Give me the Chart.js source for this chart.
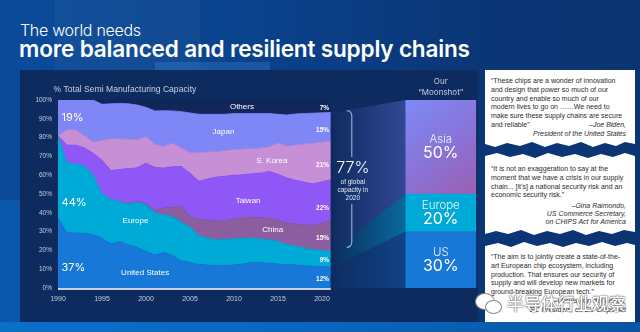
<!DOCTYPE html>
<html>
<head>
<meta charset="utf-8">
<script src="https://cdn.jsdelivr.net/npm/chart.js@4.4.1/dist/chart.umd.min.js"></script>
<style>
  html, body { margin: 0; padding: 0; }
  body {
    width: 640px; height: 332px; overflow: hidden; position: relative;
    background: linear-gradient(90deg, #0a4b9a 0%, #0a428c 40%, #0b3676 75%, #0b3472 100%);
    font-family: 'Liberation Sans', Arial, sans-serif;
  }
  .blk { position: absolute; }
  #panel { position: absolute; left: 20px; top: 70px; width: 458px; height: 252px; background: #0e2b5f; }
  #strip { position: absolute; left: 0; top: 322px; width: 640px; height: 10px;
    background: linear-gradient(90deg, #0b70c8, #0a66bd 50%, #0a54a4); }
  #t1 { position: absolute; left: 20px; top: 20px; color: #fff; font-family: Inter, sans-serif;
    font-weight: 300; font-size: 16px; letter-spacing: -0.3px; white-space: nowrap; }
  #t2 { position: absolute; left: 19px; top: 35px; color: #fff; font-family: Inter, sans-serif;
    font-weight: 600; font-size: 22.6px; letter-spacing: -0.2px; white-space: nowrap; }
  #wrap { position: absolute; left: 0; top: 0; width: 640px; height: 332px; }
  .quote { position: absolute; left: 485px; width: 150px; background: #fff; color: #2b2b2b;
    font-size: 7px; line-height: 8.8px; box-sizing: border-box; padding-left: 6px; padding-right: 9px;
    white-space: nowrap; }
  .quote .by { text-align: right; font-style: italic; }
  .quote .row { display: flex; justify-content: space-between; }
  #q1 { top: 70px; height: 78px; padding-top: 7px;
    clip-path: polygon(0 0,150px 0,150px 74px,140px 72px,131px 76px,120px 73px,108px 77px,96px 72px,84px 76px,72px 73px,60px 77px,47px 72px,35px 76px,22px 73px,10px 77px,0 74px); }
  #q2 { top: 152px; height: 84px; padding-top: 13px;
    clip-path: polygon(0 4px,12px 1px,25px 5px,38px 2px,50px 6px,63px 1px,77px 5px,90px 2px,103px 6px,116px 2px,128px 5px,140px 1px,150px 4px,150px 80px,139px 78px,127px 82px,114px 79px,101px 83px,88px 78px,75px 82px,62px 79px,49px 83px,36px 78px,23px 82px,11px 79px,0 82px); }
  #q3 { top: 241px; height: 81px; padding-top: 12px;
    clip-path: polygon(0 5px,13px 2px,26px 6px,39px 1px,52px 5px,65px 2px,78px 6px,91px 2px,104px 5px,117px 1px,130px 5px,142px 2px,150px 4px,150px 81px,0 81px); }
  #wm { position: absolute; left: 507px; top: 290px; color: #fff; font-family: 'Noto Sans CJK SC', sans-serif;
    font-size: 17px; letter-spacing: 0px; text-shadow: 0 0 1px #444, 0 0 2px #555; white-space: nowrap; font-weight: 500; }
  #wc1 { position: absolute; left: 475px; top: 293px; width: 18px; height: 15px; border-radius: 50%;
    background: #fff; border: 1px solid #888; }
  #wc2 { position: absolute; left: 485px; top: 300px; width: 15px; height: 12px; border-radius: 50%;
    background: #fff; border: 1px solid #888; }
</style>
</head>
<body>
<div class="blk" style="left:0;top:200px;width:20px;height:122px;background:#0a58ac"></div>
<div class="blk" style="left:55px;top:0;width:145px;height:70px;background:rgba(255,255,255,0.035)"></div>
<div class="blk" style="left:155px;top:62px;width:115px;height:8px;background:rgba(80,150,230,0.25)"></div>
<div id="panel"></div>
<div id="strip"></div>
<div id="t1">The world needs</div>
<div id="t2">more balanced and resilient supply chains</div>
<div id="wrap"><canvas id="chart"></canvas></div>

<div class="quote" id="q1">
  <div>“These chips are a wonder of innovation</div>
  <div>and design that power so much of our</div>
  <div>country and enable so much of our</div>
  <div>modern lives to go on ……We need to</div>
  <div>make sure these supply chains are secure</div>
  <div class="row"><span>and reliable”</span><span class="by">–Joe Biden,</span></div>
  <div class="by">President of the United States</div>
</div>
<div class="quote" id="q2">
  <div>“It is not an exaggeration to say at the</div>
  <div>moment that we have a crisis in our supply</div>
  <div>chain... [it’s] a national security risk and an</div>
  <div>economic security risk.”</div>
  <div class="by" style="margin-top:2px;line-height:8px">–Gina Raimondo,</div>
  <div class="by" style="line-height:8px">US Commerce Secretary,</div>
  <div class="by" style="line-height:8px">on CHIPS Act for America</div>
</div>
<div class="quote" id="q3">
  <div>“The aim is to jointly create a state-of-the-</div>
  <div>art European chip ecosystem, including</div>
  <div>production. That ensures our security of</div>
  <div>supply and will develop new markets for</div>
  <div>ground-breaking European tech.”</div>
  <div class="by">–Ursula von der Leyen,</div>
  <div class="by">EC President, on EU Chips Act</div>
</div>
<div id="wc1"></div>
<div id="wc2"></div>
<div id="wm">半导体行业观察</div>

<script>
// share of global semiconductor manufacturing capacity, %
const years = [1990, 1991, 1992, 1993, 1994, 1995, 1996, 1997, 1998, 1999, 2000, 2001, 2002, 2003, 2004, 2005,
  2006, 2007, 2008, 2009, 2010, 2011, 2012, 2013, 2014, 2015, 2016, 2017, 2018, 2019, 2020, 2021];
const unitedStates = [37, 29.5, 29.3, 29, 28.4, 26.5, 23.5, 24.8, 23, 21.5, 19.5, 17.5, 19, 17.2, 14.6, 13.5,
  12.5, 12.2, 11.9, 11.9, 12.3, 12.8, 13.6, 13.5, 13.1, 12.8, 12.5, 12.3, 11.9, 11.6, 11.4, 11.2];
const europe = [44, 37, 36.7, 36, 31.6, 23.5, 23.5, 21.2, 21.5, 24, 24.8, 22.5, 20, 21, 20.4, 19,
  15.3, 14.3, 13.8, 13.9, 13.9, 13.6, 13, 12.5, 12.6, 12, 10.7, 10, 9.3, 8.8, 8.5, 8.3];
const china = [0, 0, 0, 0, 0, 0, 0, 0, 0.5, 0.5, 0.7, 1, 3.5, 4.8, 8.4, 5.5,
  8.9, 9.7, 10.1, 9.8, 10.6, 10.8, 11.2, 11.4, 11.5, 11.2, 11.4, 11.7, 12.4, 12.8, 14.6, 16.5];
const taiwan = [0, 9.5, 10, 9.5, 11.7, 18, 15.5, 17, 18.5, 18, 21.4, 23.1, 21.3, 21.5, 21.2, 23,
  20.1, 21.8, 23.2, 23.9, 23.2, 23.1, 23, 23.7, 24.8, 24.5, 23.9, 23.3, 22.7, 22.1, 22, 21.6];
const southKorea = [0, 8, 8, 6.5, 5.8, 10.5, 16.7, 16.3, 15.5, 14.8, 14.1, 12.2, 11.4, 12.5, 9.9, 11,
  15.2, 14.3, 13.6, 13.5, 13.5, 13.5, 13.3, 13.3, 13, 16.5, 16.9, 18.7, 20.2, 21.7, 21, 20.3];
const japan = [19, 16, 16, 19, 22.5, 19.2, 18.8, 18.9, 19, 18.5, 15.6, 17.9, 19.1, 17.2, 19.3, 21.1,
  20.4, 20.1, 19.8, 19.4, 19.3, 19, 18.7, 18.4, 17.8, 15.4, 16.6, 16.6, 16.3, 16, 15.7, 15.4];
const others = [0, 0, 0, 0, 0, 2.3, 2, 1.8, 2, 2.7, 3.9, 5.8, 5.7, 5.8, 6.2, 6.9,
  7.6, 7.6, 7.6, 7.6, 7.2, 7.2, 7.2, 7.2, 7.2, 7.6, 8, 7.4, 7.2, 7, 6.8, 6.7];

// "moonshot" target split
const moonshotRegions = ['US', 'Europe', 'Asia'];
const moonshotShares = [30, 20, 50];

const yearTicks = [1990, 1995, 2000, 2005, 2010, 2015, 2020];
const percentTicks = [0, 10, 20, 30, 40, 50, 60, 70, 80, 90, 100];

const seriesNames = ['United States', 'Europe', 'China', 'Taiwan', 'S. Korea', 'Japan', 'Others'];
const seriesValues = [unitedStates, europe, china, taiwan, southKorea, japan, others];
const seriesColors = ['#1878d8', '#00aad6', '#8d5e9f', '#8e57f6', '#c78fd5', '#7f87f7', '#13265a'];
const moonshotColors = ['#1878d8', '#00aad8', null];
const moonX = 2033.5; // where the target bar sits on the year axis

const light = '#c5cfe3';
const FONT = "'Liberation Sans', Arial, sans-serif";
const THIN = "Inter, 'Liberation Sans', sans-serif";

// labels inside the area chart, placed in data units (year, %)
const areaLabels = [
  { t: '19%', x: 1990.4, y: 90.8, size: 11, align: 'left', fam: THIN },
  { t: '44%', x: 1990.4, y: 45.6, size: 11, align: 'left', fam: THIN },
  { t: '37%', x: 1990.4, y: 11, size: 11, align: 'left', fam: THIN },
  { t: 'Others', x: 2010.9, y: 96.4, size: 8 },
  { t: 'Japan', x: 2008.8, y: 83.1, size: 8 },
  { t: 'S. Korea', x: 2014.3, y: 67.6, size: 8 },
  { t: 'Taiwan', x: 2011.6, y: 46.6, size: 8 },
  { t: 'China', x: 2014.4, y: 30.9, size: 8 },
  { t: 'Europe', x: 1998.8, y: 35.6, size: 8 },
  { t: 'United States', x: 1999.9, y: 8.1, size: 8 },
  { t: '7%', x: 2020.8, y: 95.7, size: 6.5, align: 'right', bold: true },
  { t: '15%', x: 2020.8, y: 84, size: 6.5, align: 'right', bold: true },
  { t: '21%', x: 2020.8, y: 65.4, size: 6.5, align: 'right', bold: true },
  { t: '22%', x: 2020.8, y: 42.4, size: 6.5, align: 'right', bold: true },
  { t: '15%', x: 2020.8, y: 26.4, size: 6.5, align: 'right', bold: true },
  { t: '9%', x: 2020.8, y: 14.9, size: 6.5, align: 'right', bold: true },
  { t: '12%', x: 2020.8, y: 4.6, size: 6.5, align: 'right', bold: true }
];

function txt(ctx, s, x, y, size, color, align, weight, fam) {
  ctx.save();
  ctx.font = (weight || 'normal') + ' ' + size + 'px ' + (fam || FONT);
  ctx.fillStyle = color;
  ctx.textAlign = align || 'center';
  ctx.textBaseline = 'middle';
  ctx.fillText(s, x, y);
  ctx.restore();
}

const decor = {
  id: 'decor',
  beforeDatasetsDraw(chart) {
    const { ctx } = chart;
    const xs = chart.scales.x, ys = chart.scales.y;
    const last = years.length - 1;
    const lx = xs.getPixelForValue(years[last]) + 2;
    const bar = chart.getDatasetMeta(seriesValues.length).data[0];
    const rx = bar.x - bar.width / 2;
    const leftCum = [0, unitedStates[last], unitedStates[last] + europe[last], 100 - others[last]];
    const rightCum = [0];
    moonshotShares.forEach((v, i) => rightCum.push(rightCum[i] + v));
    const tints = ['24,120,216', '0,170,215', '110,120,240'];
    const alpha = [0.32, 0.5, 0.38];
    for (let i = 0; i < 3; i++) {
      const g = ctx.createLinearGradient(lx, 0, rx, 0);
      g.addColorStop(0, 'rgba(' + tints[i] + ',0.02)');
      g.addColorStop(1, 'rgba(' + tints[i] + ',' + alpha[i] + ')');
      ctx.save();
      ctx.fillStyle = g;
      ctx.beginPath();
      ctx.moveTo(lx, ys.getPixelForValue(leftCum[i]));
      ctx.lineTo(rx, ys.getPixelForValue(rightCum[i]));
      ctx.lineTo(rx, ys.getPixelForValue(rightCum[i + 1]));
      ctx.lineTo(lx, ys.getPixelForValue(leftCum[i + 1]));
      ctx.closePath();
      ctx.fill();
      ctx.restore();
    }
  },
  afterDatasetsDraw(chart) {
    const { ctx, chartArea } = chart;
    const xs = chart.scales.x, ys = chart.scales.y;
    const last = years.length - 1;

    // baseline under the areas
    ctx.save();
    ctx.strokeStyle = '#c9d1e1';
    ctx.lineWidth = 2;
    ctx.beginPath();
    ctx.moveTo(xs.getPixelForValue(years[0]), ys.getPixelForValue(0) + 1);
    ctx.lineTo(xs.getPixelForValue(years[last]), ys.getPixelForValue(0) + 1);
    ctx.stroke();
    ctx.restore();

    txt(ctx, '% Total Semi Manufacturing Capacity', chartArea.left - 4.5, chartArea.top - 10, 8.6, light, 'left');
    areaLabels.forEach(l => txt(ctx, l.t, xs.getPixelForValue(l.x), ys.getPixelForValue(l.y), l.size, '#fff',
      l.align || 'center', l.bold ? 'bold' : 'normal', l.fam));

    // bracket around the Asian share in the last year
    const bx = xs.getPixelForValue(years[last]) + 21;
    const yTop = ys.getPixelForValue(100 - others[last]) - 2;
    const yBot = ys.getPixelForValue(unitedStates[last] + europe[last]) - 4;
    ctx.save();
    ctx.strokeStyle = '#9fb0d4';
    ctx.lineWidth = 1.1;
    ctx.beginPath();
    ctx.moveTo(bx - 5, yTop);
    ctx.quadraticCurveTo(bx, yTop, bx, yTop + 6);
    ctx.lineTo(bx, 157);
    ctx.moveTo(bx, 204);
    ctx.lineTo(bx, yBot - 6);
    ctx.quadraticCurveTo(bx, yBot, bx - 5, yBot);
    ctx.stroke();
    ctx.restore();
    txt(ctx, '77%', bx + 1, 168, 16, '#fff', 'center', '300', THIN);
    txt(ctx, 'of global', bx + 1, 182, 6.5, '#e3e8f2');
    txt(ctx, 'capacity in', bx + 1, 190, 6.5, '#e3e8f2');
    txt(ctx, '2020', bx + 1, 198, 6.5, '#e3e8f2');

    // target bar labels
    const mx = xs.getPixelForValue(moonX);
    txt(ctx, 'Our', mx, ys.getPixelForValue(100) - 18, 8, light, 'center', 'normal', THIN);
    txt(ctx, '“Moonshot”', mx, ys.getPixelForValue(100) - 7, 8, light, 'center', 'normal', THIN);
    let base = 0;
    moonshotShares.forEach((v, i) => {
      const cy = ys.getPixelForValue(base + v / 2);
      txt(ctx, moonshotRegions[i], mx, cy - 7, 11.5, '#eef2fb', 'center', '300', THIN);
      txt(ctx, v + '%', mx, cy + 6.5, 16, '#fff', 'center', '400', THIN);
      base += v;
    });
  }
};

const datasets = seriesValues.map((vals, i) => ({
  type: 'line',
  label: seriesNames[i],
  data: years.map((y, j) => ({ x: y, y: vals[j] })),
  backgroundColor: seriesColors[i],
  borderColor: seriesColors[i],
  borderWidth: 0.8,
  pointRadius: 0,
  tension: 0,
  fill: i === 0 ? 'origin' : '-1'
}));

moonshotShares.forEach((v, i) => {
  datasets.push({
    type: 'bar',
    label: moonshotRegions[i],
    data: [{ x: moonX, y: v }],
    stack: 'moon',
    barThickness: 70,
    backgroundColor: moonshotColors[i] || (c => {
      const { ctx, chartArea } = c.chart;
      if (!chartArea) return '#8080ee';
      const xs = c.chart.scales.x, ys = c.chart.scales.y;
      const mx = xs.getPixelForValue(moonX);
      const g = ctx.createLinearGradient(mx - 35, ys.getPixelForValue(100), mx + 35, ys.getPixelForValue(50));
      g.addColorStop(0, '#7d8af8');
      g.addColorStop(0.55, '#8a72d6');
      g.addColorStop(1, '#9b60b2');
      return g;
    })
  });
});

new Chart(document.getElementById('chart'), {
  data: { datasets },
  options: {
    responsive: true,
    maintainAspectRatio: false,
    animation: false,
    layout: { padding: { left: 20, top: 100, right: 142, bottom: 0 } },
    plugins: { legend: { display: false }, tooltip: { enabled: false } },
    scales: {
      x: {
        type: 'linear', min: 1990, max: 2040, offset: false,
        afterBuildTicks: s => { s.ticks = yearTicks.map(v => ({ value: v })); },
        afterFit: s => { s.height = 44; },
        grid: { display: false, drawTicks: false, offset: false }, border: { display: false },
        ticks: { color: light, font: { size: 7, family: FONT }, padding: 7, maxRotation: 0, autoSkip: false,
          callback: v => String(v) }
      },
      y: {
        stacked: true, min: 0, max: 100,
        afterBuildTicks: s => { s.ticks = percentTicks.map(v => ({ value: v })); },
        afterFit: s => { s.width = 38; },
        grid: { display: false, drawTicks: false }, border: { display: false },
        ticks: { color: light, font: { size: 6.5, family: FONT }, padding: 6, callback: v => v + '%' }
      }
    }
  },
  plugins: [decor]
});
</script>
</body>
</html>
